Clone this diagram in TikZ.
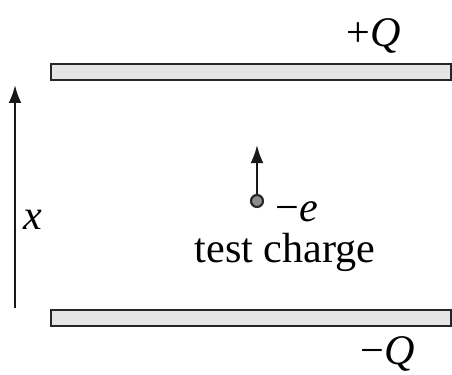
\documentclass[tikz,border=0pt]{standalone}
\usepackage{fontspec}
\setmainfont{Liberation Serif}
\usetikzlibrary{arrows.meta}
\tikzset{
  plate/.style={draw=black!85, fill=black!10, line width=1.5pt, minimum width=10cm, minimum height=0.4cm, inner sep=0pt},
  lbl/.style={font=\fontsize{30}{34}\selectfont, inner sep=0pt},
  arr/.style={-{Latex[length=0.45cm, width=0.32cm]}, line width=1.5pt, black!90}
}
\begin{document}
\begin{tikzpicture}
\useasboundingbox (0,0) rectangle (11.3,9.35);
\node[plate] (top) at (6.275,7.55) {};
\node[plate] (bot) at (6.275,1.39) {};
\node[lbl] (qplus) at (9.35,8.45) {+\textit{Q}};
\node[lbl] (qminus) at (9.7,0.5) {−\textit{Q}};
\coordinate (xbot) at (0.375,1.65);
\coordinate (xtop) at (0.375,7.225);
\draw[arr] (xbot) -- (xtop);
\node[lbl] (xlab) at (0.825,3.85) {\textit{x}};
\node[circle, draw=black!85, fill=black!45, line width=1.5pt, minimum size=0.3cm, inner sep=0pt] (charge) at (6.425,4.325) {};
\coordinate (ftip) at (6.425,5.725);
\draw[arr] (charge.north) -- (ftip);
\node[lbl] (elab) at (7.425,4.05) {−\textit{e}};
\node[lbl] (test) at (7.125,3.05) {test charge};
\end{tikzpicture}
\end{document}
